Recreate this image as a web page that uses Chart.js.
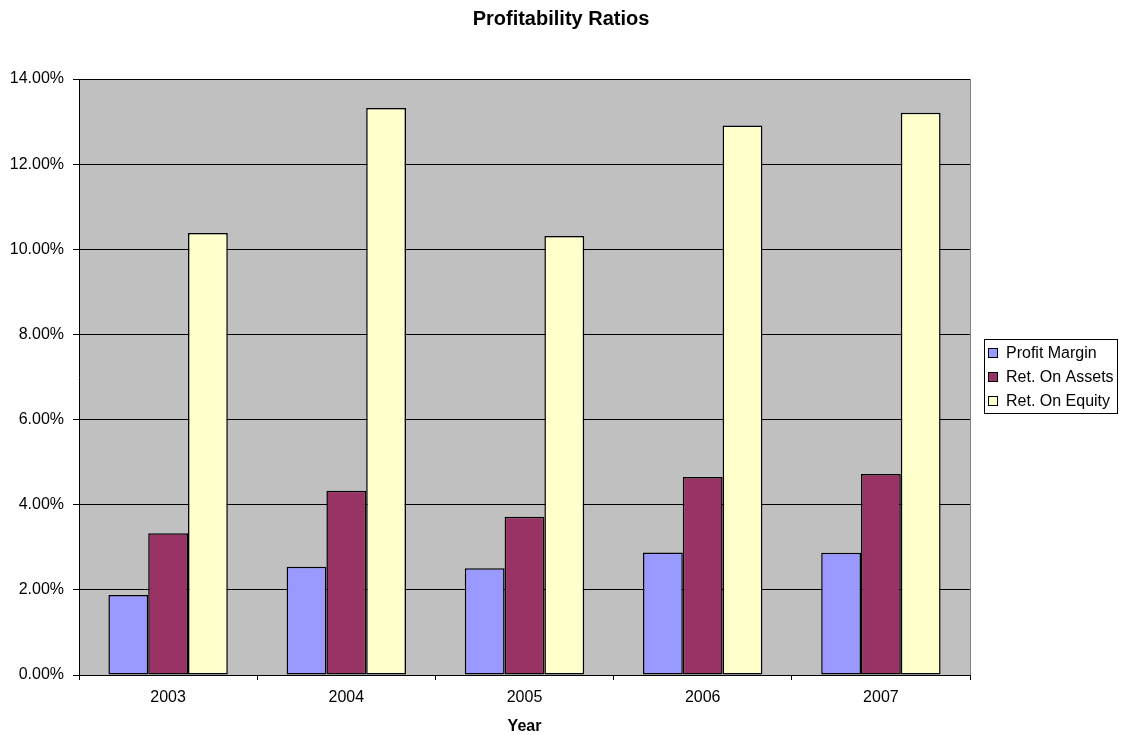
<!DOCTYPE html>
<html>
<head>
<meta charset="utf-8">
<title>Profitability Ratios</title>
<script src="https://cdn.jsdelivr.net/npm/chart.js@4.4.1/dist/chart.umd.min.js"></script>
<style>
  html, body { margin: 0; padding: 0; background: #ffffff; }
  #wrap { width: 1122px; height: 735px; }
</style>
</head>
<body>
<div id="wrap"><canvas id="chart" width="1122" height="735"></canvas></div>
<script>
// Fiscal years on the category axis
const years = ['2003', '2004', '2005', '2006', '2007'];

// Ratio values, as fractions
const profitMargin   = [0.0188, 0.0254, 0.0251, 0.0288, 0.0287];
const returnOnAssets = [0.0333, 0.0433, 0.0372, 0.0465, 0.0472];
const returnOnEquity = [0.1038, 0.1332, 0.1031, 0.1291, 0.1321];

// Series names
const seriesNames = ['Profit Margin', 'Ret. On Assets', 'Ret. On Equity'];

// Value axis ticks
const yMin = 0, yMax = 0.14, yStep = 0.02;

const chartTitle = 'Profitability Ratios';
const FONT = '"Liberation Sans", Arial, sans-serif';
const colors = ['#9999FF', '#993366', '#FFFFCC'];

// Grey plot background, grey right-hand frame line and the page-centred title
const plotFrame = {
  id: 'plotFrame',
  beforeDraw(chart) {
    const { ctx, chartArea: a } = chart;
    ctx.save();
    ctx.fillStyle = '#C0C0C0';
    ctx.fillRect(a.left, a.top, a.right - a.left, a.bottom - a.top);
    ctx.restore();
  },
  afterDraw(chart) {
    const { ctx, chartArea: a } = chart;
    ctx.save();
    ctx.strokeStyle = '#808080';
    ctx.lineWidth = 1;
    ctx.beginPath();
    ctx.moveTo(Math.round(a.right) + 0.5, a.top);
    ctx.lineTo(Math.round(a.right) + 0.5, a.bottom);
    ctx.stroke();

    ctx.fillStyle = '#000000';
    ctx.font = 'bold 20px ' + FONT;
    ctx.textAlign = 'center';
    ctx.textBaseline = 'alphabetic';
    ctx.fillText(chartTitle, chart.width / 2, 25);
    ctx.restore();
  }
};

// Boxed legend on the right side
const boxedLegend = {
  id: 'boxedLegend',
  afterDraw(chart) {
    const { ctx } = chart;
    const x = 984.5, y = 339.5, w = 133, h = 74;
    ctx.save();
    ctx.fillStyle = '#ffffff';
    ctx.fillRect(x, y, w, h);
    ctx.strokeStyle = '#000000';
    ctx.lineWidth = 1;
    ctx.strokeRect(x, y, w, h);
    ctx.font = '16px ' + FONT;
    ctx.textBaseline = 'middle';
    ctx.textAlign = 'left';
    chart.data.datasets.forEach((ds, i) => {
      const cy = 353 + i * 24;
      ctx.fillStyle = ds.backgroundColor;
      ctx.fillRect(988.5, cy - 4.5, 9, 9);
      ctx.strokeStyle = '#000000';
      ctx.strokeRect(988.5, cy - 4.5, 9, 9);
      ctx.fillStyle = '#000000';
      ctx.fillText(ds.label, 1006, cy + 1);
    });
    ctx.restore();
  }
};

const makeSet = (label, data, color) => ({
  label, data,
  backgroundColor: color,
  borderColor: '#000000',
  borderWidth: 1.5,
  borderSkipped: false,
  categoryPercentage: 0.67,
  barPercentage: 1.0
});

new Chart(document.getElementById('chart'), {
  type: 'bar',
  data: {
    labels: years,
    datasets: [
      makeSet(seriesNames[0], profitMargin, colors[0]),
      makeSet(seriesNames[1], returnOnAssets, colors[1]),
      makeSet(seriesNames[2], returnOnEquity, colors[2])
    ]
  },
  options: {
    responsive: false,
    animation: false,
    devicePixelRatio: 1,
    layout: { padding: { left: 0, right: 152, top: 79, bottom: 0 } },
    plugins: {
      legend: { display: false },
      tooltip: { enabled: false },
      title: { display: false }
    },
    scales: {
      x: {
        grid: {
          offset: true,
          drawOnChartArea: false,
          drawTicks: true,
          tickLength: 5,
          color: '#000000'
        },
        border: { display: true, color: '#000000', width: 1 },
        ticks: {
          color: '#000000',
          font: { family: FONT, size: 16 },
          padding: 8.4,
          maxRotation: 0
        },
        title: {
          display: true,
          text: 'Year',
          color: '#000000',
          font: { family: FONT, size: 16, weight: 'bold', lineHeight: 1 },
          padding: { top: 10.4, bottom: 0 }
        },
        afterFit(scale) { scale.height = 60; }
      },
      y: {
        min: yMin,
        max: yMax,
        grid: {
          color: '#000000',
          lineWidth: 1,
          drawTicks: true,
          tickLength: 6
        },
        border: { display: true, color: '#000000', width: 1 },
        ticks: {
          stepSize: yStep,
          color: '#000000',
          font: { family: FONT, size: 16 },
          padding: 9,
          callback: v => (v * 100).toFixed(2) + '%'
        },
        afterFit(scale) { scale.width = 79; }
      }
    }
  },
  plugins: [plotFrame, boxedLegend]
});
</script>
</body>
</html>
